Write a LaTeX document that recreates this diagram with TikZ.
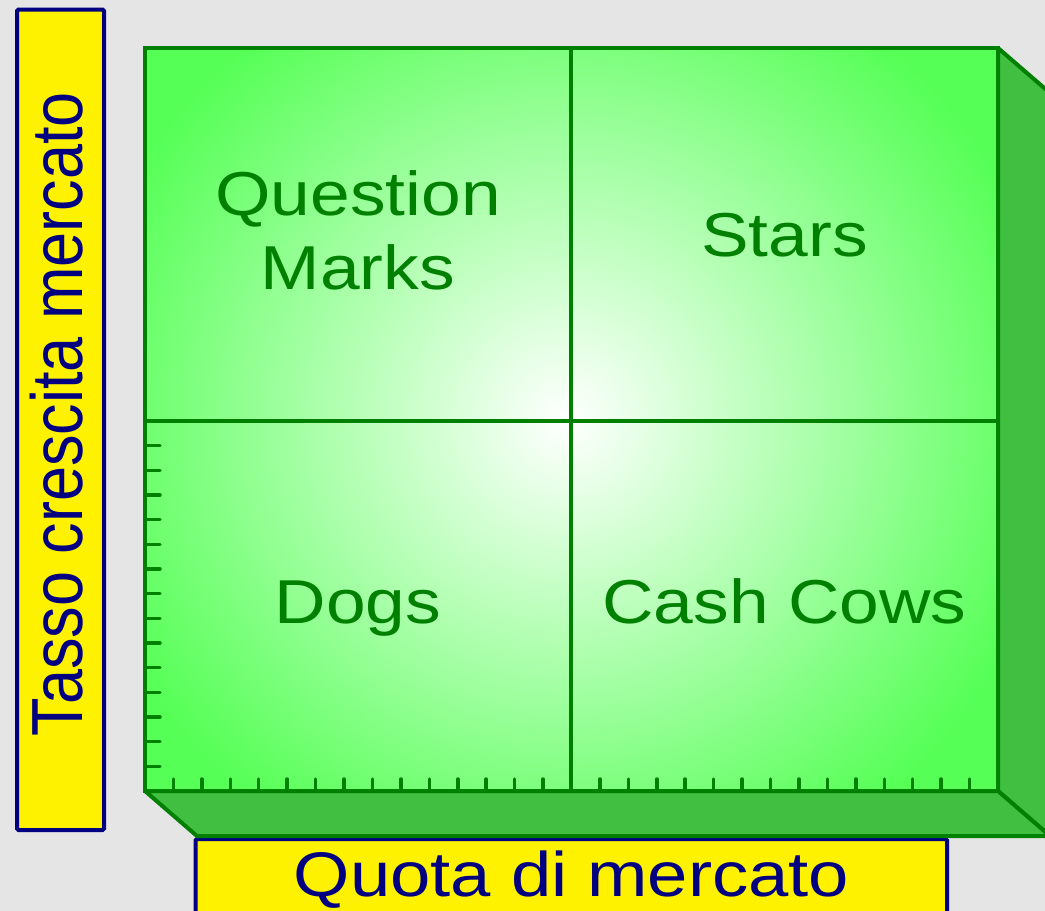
\documentclass[tikz,border=0pt]{standalone}
\usepackage{fontspec}
\setmainfont{Liberation Sans}
\definecolor{bg}{HTML}{E5E5E5}
\definecolor{dkgreen}{HTML}{008000}
\definecolor{lgreen}{HTML}{55FF55}
\definecolor{sidegreen}{HTML}{40BF40}
\definecolor{navy}{HTML}{000080}
\pgfdeclareradialshading{glow}{\pgfpoint{0bp}{0bp}}{color(0bp)=(white); color(25bp)=(lgreen); color(50bp)=(lgreen)}
\tikzset{
  labelbox/.style={draw=navy, line width=4pt, fill=yellow, rounded corners=1.5pt},
  face/.style={fill=sidegreen, draw=dkgreen, line width=4pt, line join=round},
  edge/.style={draw=dkgreen, line width=4.3pt},
  tickmark/.style={draw=dkgreen, line width=3.5pt, line cap=round},
  qlabel/.style={text=dkgreen, inner sep=0pt, anchor=base, font=\fontsize{62}{74}\selectfont},
  axlabel/.style={text=navy, inner sep=0pt, anchor=base, font=\fontsize{63}{74}\selectfont}
}
\begin{document}
\begin{tikzpicture}[x=1pt,y=-1pt]
\useasboundingbox (0,0) rectangle (1045,911);
\fill[bg] (0,0) rectangle (1045,911);
% label boxes
\path[labelbox] (17,9.5) rectangle (104,830);
\path[labelbox] (195.5,839) rectangle (947,935);
% corners of the front face
\coordinate (tl) at (145,48);
\coordinate (tr) at (998,48);
\coordinate (br) at (998,791);
\coordinate (bl) at (145,791);
\coordinate (trb) at (1050,93);
\coordinate (brb) at (1050,836);
\coordinate (blb) at (197,836);
% 3D faces
\path[face] (tr) -- (trb) -- (brb) -- (br) -- cycle;
\path[face] (bl) -- (br) -- (brb) -- (blb) -- cycle;
% front face shading
\fill[lgreen] (tl) rectangle (br);
\begin{scope}
\clip (tl) rectangle (br);
\shade[shading=glow] (566,420) ellipse [x radius=500pt, y radius=490pt];
\end{scope}
% dividers
\coordinate (mt) at (571,48);
\coordinate (mb) at (571,791);
\coordinate (ml) at (145,421);
\coordinate (mr) at (998,421);
\path[edge] (mt) -- (mb);
\path[edge] (ml) -- (mr);
% ticks
\foreach \k in {1,...,14} \path[tickmark] (145,421+\k*24.667) -- ++(15,0);
\foreach \k in {1,...,29} \path[tickmark] (145+\k*28.433,791) -- ++(0,-12);
\path[edge] (tl) rectangle (br);
% quadrant labels
\node[qlabel] (qm) at (358,215) {\scalebox{1.15}[1]{\begin{tabular}[t]{@{}c@{}}Question\\Marks\end{tabular}}};
\node[qlabel] (st) at (784.5,256) {\scalebox{1.15}[1]{Stars}};
\node[qlabel] (dg) at (358,623.5) {\scalebox{1.15}[1]{Dogs}};
\node[qlabel] (cc) at (784.5,623.5) {\scalebox{1.15}[1]{Cash Cows}};
% axis labels
\node[axlabel, rotate=90] (ylab) at (82,414) {\scalebox{1}[1.15]{Tasso crescita mercato}};
\node[axlabel] (xlab) at (571.5,896) {\scalebox{1.15}[1]{Quota di mercato}};
\end{tikzpicture}
\end{document}
